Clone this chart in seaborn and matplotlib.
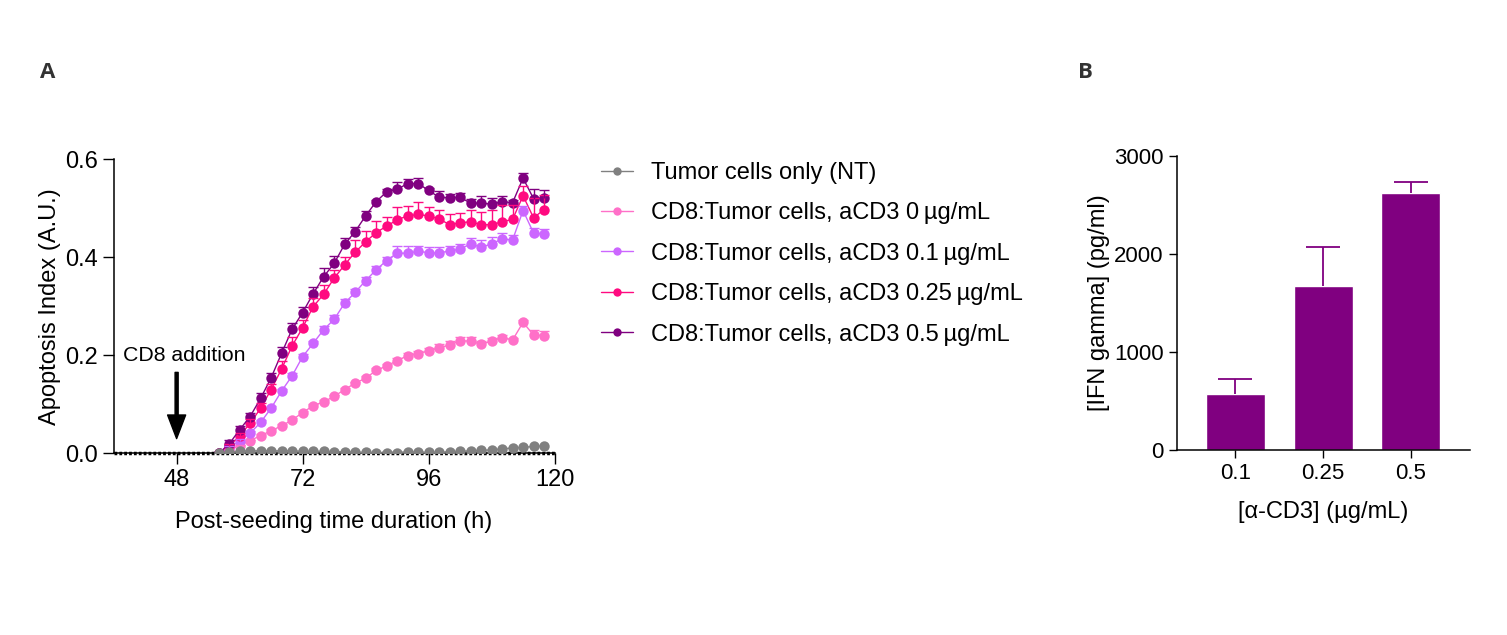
import numpy as np
import pandas as pd
import matplotlib
matplotlib.use("Agg")
import matplotlib.pyplot as plt
import seaborn as sns

# ---------------- data ----------------
time_h = [56, 58, 60, 62, 64, 66, 68, 70, 72, 74, 76, 78, 80, 82, 84, 86,
          88, 90, 92, 94, 96, 98, 100, 102, 104, 106, 108, 110, 112, 114, 116, 118]

series_labels = [
    "Tumor cells only (NT)",
    "CD8:Tumor cells, aCD3 0\u2009µg/mL",
    "CD8:Tumor cells, aCD3 0.1\u2009µg/mL",
    "CD8:Tumor cells, aCD3 0.25\u2009µg/mL",
    "CD8:Tumor cells, aCD3 0.5\u2009µg/mL",
]
series_colors = ["#808080", "#FF70C8", "#CC66FF", "#FF0A80", "#800080"]

nt_vals = [0.000, 0.002, 0.004, 0.005, 0.005, 0.005, 0.005, 0.005, 0.004, 0.004, 0.004,
           0.003, 0.003, 0.002, 0.002, 0.001, 0.001, 0.001, 0.002, 0.002, 0.002, 0.002,
           0.003, 0.004, 0.005, 0.006, 0.007, 0.009, 0.011, 0.012, 0.014, 0.015]
cd3_0_vals = [0.000, 0.007, 0.015, 0.026, 0.036, 0.046, 0.056, 0.068, 0.083, 0.097, 0.105,
              0.116, 0.130, 0.143, 0.153, 0.169, 0.178, 0.189, 0.199, 0.203, 0.209, 0.215,
              0.221, 0.229, 0.229, 0.222, 0.229, 0.236, 0.231, 0.267, 0.241, 0.240]
cd3_01_vals = [0.000, 0.010, 0.026, 0.041, 0.063, 0.092, 0.127, 0.158, 0.197, 0.224, 0.252,
               0.273, 0.306, 0.328, 0.352, 0.374, 0.393, 0.408, 0.408, 0.412, 0.409, 0.408,
               0.413, 0.416, 0.427, 0.420, 0.427, 0.437, 0.435, 0.495, 0.449, 0.447]
cd3_025_vals = [0.000, 0.014, 0.036, 0.061, 0.092, 0.130, 0.172, 0.219, 0.256, 0.299, 0.324,
                0.357, 0.384, 0.410, 0.431, 0.450, 0.463, 0.476, 0.484, 0.487, 0.484, 0.478,
                0.466, 0.470, 0.472, 0.466, 0.466, 0.472, 0.477, 0.525, 0.480, 0.497]
cd3_05_vals = [0.000, 0.019, 0.048, 0.075, 0.112, 0.154, 0.204, 0.253, 0.287, 0.325, 0.360,
               0.387, 0.426, 0.452, 0.484, 0.513, 0.533, 0.538, 0.550, 0.550, 0.536, 0.522,
               0.521, 0.522, 0.510, 0.510, 0.508, 0.513, 0.511, 0.561, 0.519, 0.521]

nt_err = [0.0] * 32
cd3_0_err = [0.0, 0.002, 0.002, 0.002, 0.003, 0.003, 0.003, 0.003, 0.003, 0.003, 0.003,
             0.003, 0.003, 0.003, 0.004, 0.004, 0.004, 0.005, 0.005, 0.005, 0.006, 0.008,
             0.008, 0.008, 0.008, 0.008, 0.007, 0.006, 0.005, 0.005, 0.010, 0.010]
cd3_01_err = [0.0, 0.004, 0.004, 0.005, 0.005, 0.005, 0.005, 0.006, 0.006, 0.006, 0.008,
              0.008, 0.008, 0.008, 0.008, 0.008, 0.007, 0.014, 0.014, 0.010, 0.012, 0.012,
              0.009, 0.010, 0.012, 0.014, 0.014, 0.013, 0.010, 0.010, 0.010, 0.010]
cd3_025_err = [0.0, 0.005, 0.006, 0.008, 0.010, 0.012, 0.016, 0.019, 0.016, 0.018, 0.019,
               0.016, 0.017, 0.024, 0.023, 0.024, 0.019, 0.026, 0.020, 0.026, 0.019, 0.018,
               0.022, 0.020, 0.024, 0.025, 0.031, 0.034, 0.029, 0.020, 0.040, 0.030]
cd3_05_err = [0.0, 0.008, 0.008, 0.008, 0.010, 0.010, 0.012, 0.013, 0.012, 0.015, 0.017,
              0.015, 0.012, 0.010, 0.010, 0.004, 0.006, 0.016, 0.010, 0.012, 0.005, 0.012,
              0.008, 0.008, 0.008, 0.014, 0.012, 0.012, 0.005, 0.010, 0.020, 0.015]

series_vals = [nt_vals, cd3_0_vals, cd3_01_vals, cd3_025_vals, cd3_05_vals]
series_errs = [nt_err, cd3_0_err, cd3_01_err, cd3_025_err, cd3_05_err]

x_ticks_a = [48, 72, 96, 120]
y_ticks_a = [0.0, 0.2, 0.4, 0.6]

ifn_cats = ["0.1", "0.25", "0.5"]
ifn_vals = [571, 1673, 2626]
ifn_errs = [150, 402, 112]
y_ticks_b = [0, 1000, 2000, 3000]
bar_color = "#800080"

# ---------------- style ----------------
sns.set_style("ticks")
plt.rcParams["font.family"] = ["Liberation Sans", "DejaVu Sans"]
plt.rcParams["axes.linewidth"] = 1.1
plt.rcParams["axes.edgecolor"] = "black"
plt.rcParams["text.color"] = "black"
plt.rcParams["axes.labelcolor"] = "black"
plt.rcParams["xtick.color"] = "black"
plt.rcParams["ytick.color"] = "black"
plt.rcParams["xtick.major.width"] = 1.0
plt.rcParams["ytick.major.width"] = 1.0
plt.rcParams["xtick.major.size"] = 8
plt.rcParams["ytick.major.size"] = 8
FS = 17


def up_errorbar(ax, x, y, err, color, lw, cap):
    cont = ax.errorbar(x, y, yerr=[np.zeros(len(err)), err], fmt="none",
                       ecolor=color, elinewidth=lw, capsize=cap, capthick=lw, zorder=2)
    caplines = cont[1]
    if len(caplines) == 2:
        caplines[0].set_visible(False)
    return cont


fig = plt.figure(figsize=(15.07, 6.35), dpi=100)

# ---------------- panel A ----------------
axA = fig.add_axes([0.0754, 0.2861, 0.2926, 0.4635])
rows = []
for lab, vals in zip(series_labels, series_vals):
    for t, v in zip(time_h, vals):
        rows.append({"time": t, "value": v, "series": lab})
df = pd.DataFrame(rows)

axA.axhline(0, color="black", lw=2.5, ls=(0, (0.8, 0.6)), zorder=3, clip_on=False)

sns.lineplot(data=df, x="time", y="value", hue="series", hue_order=series_labels,
             palette=series_colors, marker="o", markersize=7.5, markeredgewidth=0,
             linewidth=1.0, errorbar=None, ax=axA, legend=True)
for ln in axA.get_lines():
    if ln.get_color() == "#808080":
        ln.set_zorder(5)

for vals, errs, col in zip(series_vals, series_errs, series_colors):
    if max(errs) > 0:
        up_errorbar(axA, time_h, vals, errs, col, 1.0, 3.5)

axA.set_xlim(36, 120)
axA.set_ylim(0, 0.6)
axA.set_xticks(x_ticks_a)
axA.set_yticks(y_ticks_a)
axA.set_yticklabels([f"{v:.1f}" for v in y_ticks_a])
axA.tick_params(labelsize=FS)
axA.set_xlabel("Post-seeding time duration (h)", fontsize=FS, labelpad=14)
axA.set_ylabel("Apoptosis Index (A.U.)", fontsize=FS, labelpad=3)
sns.despine(ax=axA)

axA.annotate("", xy=(48, 0.03), xytext=(48, 0.165),
             arrowprops=dict(facecolor="black", edgecolor="black", width=2.2,
                             headwidth=13, headlength=17, shrink=0))
axA.text(49.4, 0.2, "CD8 addition", fontsize=15.3, ha="center", va="center")

handles, labels = axA.get_legend_handles_labels()
axA.legend(handles, labels, loc="upper left", bbox_to_anchor=(0.399, 0.745),
           bbox_transform=fig.transFigure, frameon=False, fontsize=FS,
           handlelength=1.35, handletextpad=0.75, labelspacing=0.78,
           markerscale=0.8, borderaxespad=0, borderpad=0)

# ---------------- panel B ----------------
axB = fig.add_axes([0.7808, 0.2913, 0.1944, 0.463])
sns.barplot(x=ifn_cats, y=ifn_vals, color=bar_color, saturation=1, width=0.67,
            errorbar=None, ax=axB)
up_errorbar(axB, list(range(len(ifn_cats))), ifn_vals, ifn_errs, bar_color, 1.3, 12)
axB.set_xlim(-0.67, 2.67)
axB.set_ylim(0, 3000)
axB.set_yticks(y_ticks_b)
axB.tick_params(labelsize=16, length=6)
axB.set_xlabel("[α-CD3] (µg/mL)", fontsize=FS, labelpad=12)
axB.set_ylabel("[IFN gamma] (pg/ml)", fontsize=FS, labelpad=3)
sns.despine(ax=axB)

fig.text(48 / 1507, 1 - 72 / 635, "A", fontsize=16, fontweight="bold",
         family=["Open Sans", "DejaVu Sans"], color="#333333", ha="center", va="center")
fig.text(1085 / 1507, 1 - 72 / 635, "B", fontsize=16, fontweight="bold",
         family=["Open Sans", "DejaVu Sans"], color="#333333", ha="center", va="center")

fig.savefig("out.png", dpi=100)
